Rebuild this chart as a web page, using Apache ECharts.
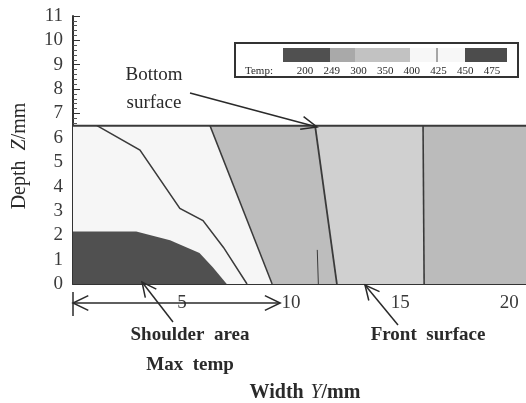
<!DOCTYPE html>
<html><head><meta charset="utf-8">
<script src="https://cdn.jsdelivr.net/npm/echarts@6/dist/echarts.min.js"></script>
<style>html,body{margin:0;padding:0;background:#fff}#c{width:526px;height:403px}</style>
</head><body><div id="c"></div>
<script>
// ---- data (mm) ----
const plateTop = 6.5;
const widthMax = 21;
const depthMax = 11;
const shoulderZone = [[0,0],[0,2.15],[2.9,2.15],[4.45,1.8],[5.8,1.27],[6.4,0.7],[7.05,0]];
const contour425 = [[1.1,6.5],[3.07,5.5],[4.9,3.1],[5.96,2.6],[6.9,1.5],[7.98,0]];
const contour400 = [[6.28,6.5],[9.13,0]];
const contour350 = [[11.1,6.5],[12.1,0]];
const contour350Spike = [[11.2,1.4],[11.25,0]];
const contour300 = [[16.05,6.5],[16.1,0]];
const legendTemps = [200,249,300,350,400,425,450,475];
const shoulderSpan = [0, 9.5];

// ---- style ----
const FONT = 'Liberation Serif';
const INK = '#2a2a2a';

const zones = [
  {pts: [[0,0],[0,plateTop],[widthMax,plateTop],[widthMax,0]], fill:'#f6f6f6'},
  {pts: [contour400[0], contour350[0], contour350[1], contour400[1]], fill:'#bdbdbd'},
  {pts: [contour350[0], contour300[0], contour300[1], contour350[1]], fill:'#d0d0d0'},
  {pts: [contour300[0], [widthMax,plateTop], [widthMax,0], contour300[1]], fill:'#bbbbbb'},
  {pts: shoulderZone, fill:'#505050'}
];
const lines = [
  {pts: contour425, w:1.5},
  {pts: contour400, w:1.5},
  {pts: contour350, w:1.8},
  {pts: contour350Spike, w:1},
  {pts: contour300, w:1.6},
  {pts: [[0,plateTop],[widthMax,plateTop]], w:2}
];

const chart = echarts.init(document.getElementById('c'), null, {renderer:'canvas'});

function arrowHead(x1,y1,x2,y2,len,ang){
  const a = Math.atan2(y1-y2, x1-x2);
  return {type:'polyline', z:100, shape:{points:[
    [x2+len*Math.cos(a+ang), y2+len*Math.sin(a+ang)], [x2,y2],
    [x2+len*Math.cos(a-ang), y2+len*Math.sin(a-ang)]]},
    style:{stroke:INK, fill:null, lineWidth:1.5}};
}
function arrow(x1,y1,x2,y2,len,ang){
  return [
    {type:'line', z:100, shape:{x1,y1,x2,y2}, style:{stroke:INK, lineWidth:1.5}},
    arrowHead(x1,y1,x2,y2,len,ang)
  ];
}
function txt(x,y,text,size,weight,extra){
  return {type:'text', z:100, x, y, style:Object.assign({text, fontFamily:FONT, fontSize:size,
    fontWeight:weight||'normal', fill:INK, align:'center', verticalAlign:'middle'}, extra||{})};
}

// legend
const legBar = {y:48, h:14};
const legSegs = [
  {a:283, b:330, c:'#505050'},
  {a:330, b:355, c:'#a9a9a9'},
  {a:355, b:410, c:'#c2c2c2'},
  {a:410, b:465, c:'#f7f7f7'},
  {a:465, b:507, c:'#4c4c4c'}
];
const legendEls = [
  {type:'rect', z:90, shape:{x:235, y:43, width:283, height:34}, style:{fill:'#fff', stroke:'#333', lineWidth:2}}
];
legSegs.forEach(s => legendEls.push({type:'rect', z:95, shape:{x:s.a, y:legBar.y, width:s.b-s.a, height:legBar.h}, style:{fill:s.c}}));
legendEls.push({type:'line', z:96, shape:{x1:437, y1:legBar.y, x2:437, y2:legBar.y+legBar.h}, style:{stroke:'#555', lineWidth:1}});
legendEls.push(txt(259, 71, 'Temp:', 11, 'normal'));
legendTemps.forEach((t,i) => legendEls.push(txt(305 + i*(492-305)/(legendTemps.length-1), 71, String(t), 11, 'normal')));

const graphics = [].concat(
  legendEls,
  [
    txt(154, 75, 'Bottom', 19),
    txt(154, 103, 'surface', 19),
    txt(190, 335, 'Shoulder  area', 19, 'bold'),
    txt(190, 365, 'Max  temp', 19, 'bold'),
    txt(428, 335, 'Front  surface', 19, 'bold'),
    {type:'text', z:100, x:305, y:393, style:{text:'{b|Width}  {i|Y}{b|/mm}', align:'center', verticalAlign:'middle', fill:INK,
      rich:{b:{fontFamily:FONT, fontSize:20, fontWeight:'bold', fill:INK}, i:{fontFamily:FONT, fontSize:20, fontStyle:'italic', fill:INK}}}},
    {type:'text', z:100, x:20, y:156, rotation:Math.PI/2, style:{text:'{b|Depth}   {i|Z}{b|/mm}', align:'center', verticalAlign:'middle', fill:INK,
      rich:{b:{fontFamily:FONT, fontSize:20, fill:INK}, i:{fontFamily:FONT, fontSize:20, fontStyle:'italic', fill:INK}}}}
  ],
  arrow(190, 93, 317, 127, 17, 0.4),
  arrow(173, 322, 142, 282, 16, 0.45),
  arrow(398, 325, 365, 285, 16, 0.45)
);

const option = {
  animation:false,
  backgroundColor:'#fff',
  grid:{left:73, top:16, width:458, height:268, containLabel:false, outerBoundsMode:'none'},
  xAxis:{type:'value', min:0, max:widthMax, interval:5,
    axisLine:{show:true, onZero:false, lineStyle:{color:'#333', width:2}},
    axisTick:{show:true, inside:true, length:6, lineStyle:{color:'#333'}},
    axisLabel:{margin:10, fontFamily:FONT, fontSize:19, color:'#3a3a3a', showMaxLabel:false,
      formatter:v => (v===0 || v%5!==0) ? '' : String(v)},
    splitLine:{show:false}},
  yAxis:{type:'value', min:0, max:depthMax, interval:1,
    axisLine:{show:true, onZero:false, lineStyle:{color:'#333', width:2}},
    axisTick:{show:true, inside:true, length:7, lineStyle:{color:'#333'}},
    minorTick:{show:true, splitNumber:5, length:4, lineStyle:{color:'#555'}},
    axisLabel:{margin:10, fontFamily:FONT, fontSize:19, color:'#3a3a3a'},
    splitLine:{show:false}},
  series:[
    {type:'custom', coordinateSystem:'cartesian2d', clip:false, z:1,
      data:zones.map((z,i)=>[i]),
      renderItem:(params, api) => {
        const z = zones[params.dataIndex];
        return {type:'polygon', shape:{points:z.pts.map(p => api.coord(p))}, style:{fill:z.fill}};
      }},
    {type:'custom', coordinateSystem:'cartesian2d', clip:false, z:3,
      data:lines.map((l,i)=>[i]),
      renderItem:(params, api) => {
        const l = lines[params.dataIndex];
        return {type:'polyline', shape:{points:l.pts.map(p => api.coord(p))}, style:{stroke:'#3a3a3a', lineWidth:l.w, fill:null}};
      }},
    {type:'custom', coordinateSystem:'cartesian2d', clip:false, z:4,
      data:[shoulderSpan],
      renderItem:(params, api) => {
        const a = api.coord([shoulderSpan[0], 0]);
        const b = api.coord([shoulderSpan[1], 0]);
        const y = a[1] + 19;
        const x1 = a[0], x2 = b[0];
        const L = 17, ang = 0.45;
        return {type:'group', children:[
          {type:'line', shape:{x1, y1:y, x2, y2:y}, style:{stroke:INK, lineWidth:1.5}},
          {type:'line', shape:{x1, y1:y-11, x2:x1, y2:y+13}, style:{stroke:INK, lineWidth:1.5}},
          {type:'polyline', shape:{points:[[x1+L*Math.cos(ang), y-L*Math.sin(ang)],[x1,y],[x1+L*Math.cos(ang), y+L*Math.sin(ang)]]}, style:{stroke:INK, fill:null, lineWidth:1.5}},
          {type:'polyline', shape:{points:[[x2-L*Math.cos(ang), y-L*Math.sin(ang)],[x2,y],[x2-L*Math.cos(ang), y+L*Math.sin(ang)]]}, style:{stroke:INK, fill:null, lineWidth:1.5}}
        ]};
      }}
  ],
  graphic:graphics
};
chart.setOption(option);
</script></body></html>
